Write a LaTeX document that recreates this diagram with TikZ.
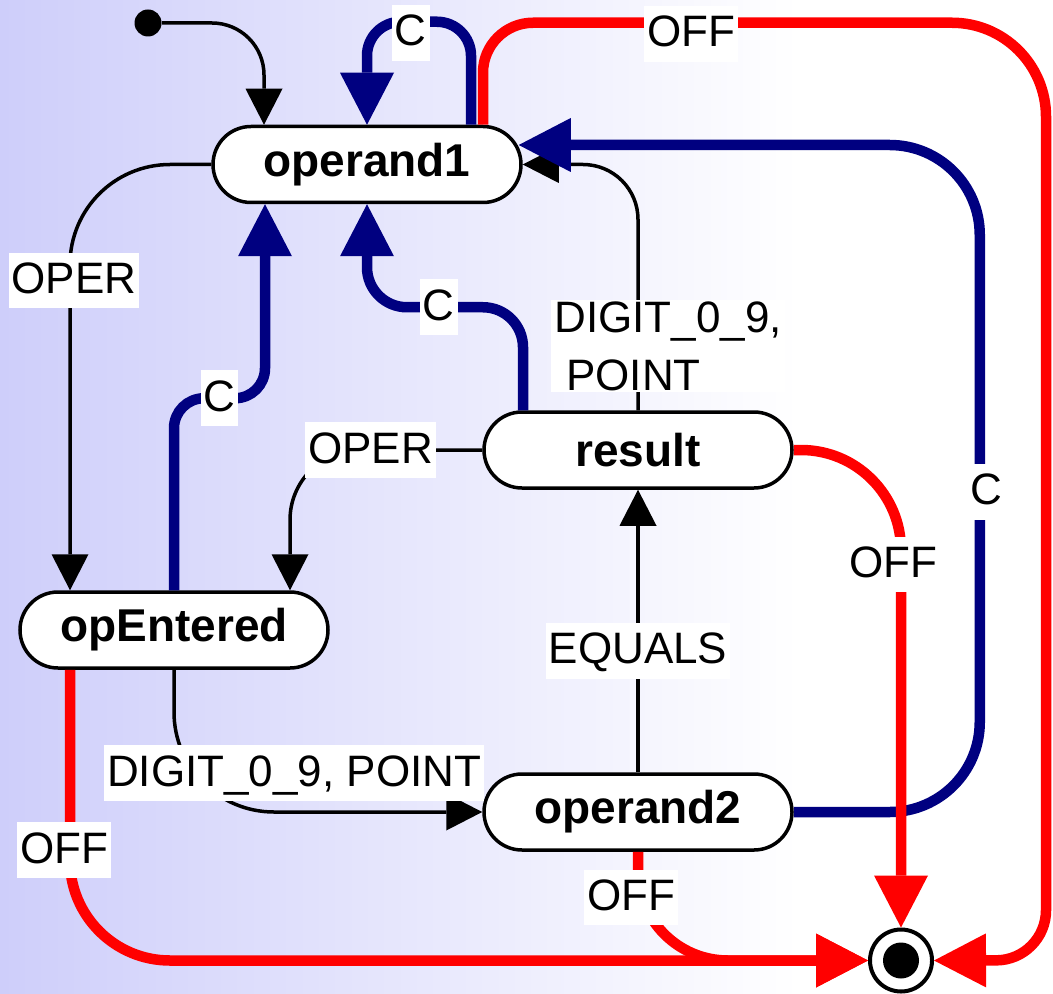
\documentclass[tikz,border=0pt]{standalone}
\usepackage{fontspec}
\setmainfont{Liberation Sans}
\usetikzlibrary{arrows.meta}
\definecolor{navy}{RGB}{0,0,128}
\definecolor{lav}{RGB}{206,206,250}

\tikzset{
  state/.style={draw, fill=white, line width=1.75pt, rounded corners=19pt,
    minimum width=154pt, minimum height=38pt, inner sep=0pt,
    font=\bfseries\fontsize{23}{27}\selectfont},
  lbl/.style={fill=white, sharp corners, inner xsep=1.5pt, inner ysep=1pt,
    text height=19.4pt, text depth=6.4pt, font=\fontsize{22}{28.5}\selectfont},
  tr/.style={line width=1.75pt, -{Triangle[length=18pt,width=18.5pt,line width=0pt]}},
  trC/.style={draw=navy, line width=5.25pt, -{Triangle[length=26pt,width=27pt,line width=0pt]}},
  trOff/.style={draw=red, line width=5.25pt, -{Triangle[length=26pt,width=27pt,line width=0pt]}},
}

\begin{document}
\begin{tikzpicture}[x=0.5pt,y=-0.5pt]
\fill[left color=lav, right color=white] (0,0) rectangle (800,994);
\fill[white] (800,0) rectangle (1053,994);
\useasboundingbox (0,0) rectangle (1053,994);

\node[circle, fill, inner sep=0pt, minimum size=13.5pt] (init) at (148,23) {};
\node[state] (op1) at (367,164.5) {operand1};
\node[state] (opE) at (174,630) {opEntered};
\node[state] (res) at (638,450) {result};
\node[state] (op2) at (638,812) {operand2};
\node[circle, draw, fill=white, line width=2pt, minimum size=31pt, inner sep=0pt,
  path picture={\fill[black] (path picture bounding box.center) circle (9pt);}] (fin) at (901,960.5) {};

% black transitions
\draw[tr, rounded corners=26pt] (init) -| ([xshift=-51.5pt]op1.north);
\draw[tr, rounded corners=50pt] (op1.west) -| node[lbl, pos=0.636, xshift=2pt]{OPER} ([xshift=-52pt]opE.north);
\draw[tr, rounded corners=35pt] (res.west) -| node[lbl, pos=0.29]{OPER} ([xshift=58pt]opE.north);
\draw[tr, rounded corners=27.5pt] (res.north) |- node[lbl, pos=0.13, xshift=15pt, align=left, text height={}, text depth={}]{DIGIT\_0\_9,\\\hspace{6pt}POINT} (op1.east);
\draw[tr] (op2) -- node[lbl, pos=0.43]{EQUALS} (res);
\draw[tr, rounded corners=50pt] (opE.south) |- node[lbl, pos=0.695, yshift=19.5pt]{DIGIT\_0\_9, POINT} (op2.west);

% C transitions
\draw[trC, rounded corners=17pt] ([xshift=52pt]op1.north) -- ++(0,-103) -| node[lbl, pos=0.29, yshift=-5.6pt]{C} (op1.north);
\draw[trC, rounded corners=15pt] (opE.north) -- ++(0,-192) -| node[lbl, pos=0.25]{C} ([xshift=-51pt]op1.south);
\draw[trC, rounded corners=20pt] ([xshift=-57.5pt]res.north) -- ++(0,-103) -| node[lbl, pos=0.27]{C} (op1.south);
\draw[trC, rounded corners=45pt] (op2.east) -- ++(186,0) |- node[lbl, pos=0.24, xshift=3.5pt]{C} ([xshift=-2pt,yshift=9.75pt]op1.east);

% OFF transitions
\draw[trOff, rounded corners=25pt] ([xshift=58pt]op1.north) -- ++(0,-102)
  [rounded corners=47pt] -- node[lbl, pos=0.37, yshift=-5.6pt]{OFF} ++(563,0)
  [rounded corners=25pt] -- ++(0,937.5) -- (fin.east);
\draw[trOff, rounded corners=50pt] (res.east) -| node[lbl, pos=0.62, xshift=-4pt]{OFF} (fin.north);
\draw[trOff, rounded corners=50pt] ([xshift=-52pt]opE.south) |- node[lbl, pos=0.31, xshift=-3pt]{OFF} (fin.west);
\draw[trOff, rounded corners=45pt] (op2.south) |- node[lbl, pos=0.21, xshift=-3.5pt]{OFF} (fin.west);
\end{tikzpicture}
\end{document}
